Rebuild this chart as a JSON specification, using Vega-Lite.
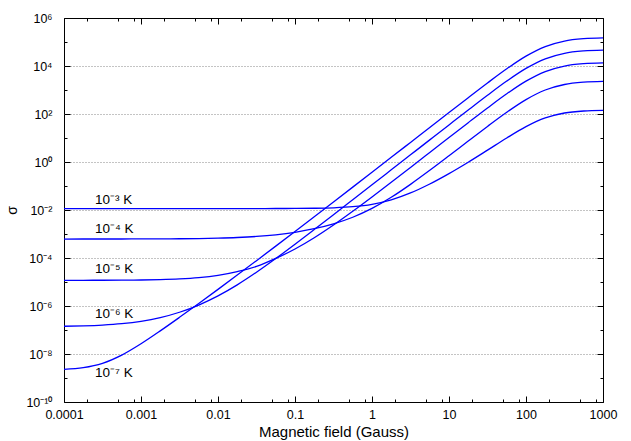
{
  "$schema": "https://vega.github.io/schema/vega-lite/v6.json",
  "width": 539,
  "height": 384,
  "autosize": {"type": "none"},
  "padding": {"left": 64, "top": 18, "right": 28, "bottom": 39},
  "background": "white",
  "config": {
    "view": {"stroke": "black", "strokeWidth": 1},
    "font": "Liberation Sans",
    "axis": {"labelFont": "Liberation Sans", "titleFont": "Liberation Sans", "titleFontWeight": "normal", "labelColor": "black", "titleColor": "black", "tickColor": "black", "domain": false, "labelFlush": false, "labelOverlap": false}
  },
  "datasets": {
    "curves": [
      {"T": "1e-7", "B": 0.0001, "s": 2.306e-9},
      {"T": "1e-7", "B": 0.0001778, "s": 2.707e-9},
      {"T": "1e-7", "B": 0.0003162, "s": 4.098e-9},
      {"T": "1e-7", "B": 0.0005623, "s": 9.018e-9},
      {"T": "1e-7", "B": 0.001, "s": 2.674e-8},
      {"T": "1e-7", "B": 0.001778, "s": 9.194e-8},
      {"T": "1e-7", "B": 0.003162, "s": 3.369e-7},
      {"T": "1e-7", "B": 0.005623, "s": 1.273e-6},
      {"T": "1e-7", "B": 0.01, "s": 4.928e-6},
      {"T": "1e-7", "B": 0.01778, "s": 1.939e-5},
      {"T": "1e-7", "B": 0.03162, "s": 7.738e-5},
      {"T": "1e-7", "B": 0.05623, "s": 3.124e-4},
      {"T": "1e-7", "B": 0.1, "s": 1.273e-3},
      {"T": "1e-7", "B": 0.1778, "s": 5.231e-3},
      {"T": "1e-7", "B": 0.3162, "s": 0.02162},
      {"T": "1e-7", "B": 0.5623, "s": 0.08977},
      {"T": "1e-7", "B": 1, "s": 0.3741},
      {"T": "1e-7", "B": 1.778, "s": 1.564},
      {"T": "1e-7", "B": 3.162, "s": 6.552},
      {"T": "1e-7", "B": 5.623, "s": 27.46},
      {"T": "1e-7", "B": 10, "s": 115.0},
      {"T": "1e-7", "B": 17.78, "s": 479.7},
      {"T": "1e-7", "B": 31.62, "s": 1966},
      {"T": "1e-7", "B": 56.23, "s": 7649},
      {"T": "1e-7", "B": 100, "s": 25800},
      {"T": "1e-7", "B": 177.8, "s": 64740},
      {"T": "1e-7", "B": 316.2, "s": 109600},
      {"T": "1e-7", "B": 562.3, "s": 137500},
      {"T": "1e-7", "B": 1000, "s": 149100},

      {"T": "1e-6", "B": 0.0001, "s": 1.435e-7},
      {"T": "1e-6", "B": 0.0001778, "s": 1.490e-7},
      {"T": "1e-6", "B": 0.0003162, "s": 1.602e-7},
      {"T": "1e-6", "B": 0.0005623, "s": 1.827e-7},
      {"T": "1e-6", "B": 0.001, "s": 2.29e-7},
      {"T": "1e-6", "B": 0.001778, "s": 3.275e-7},
      {"T": "1e-6", "B": 0.003162, "s": 5.487e-7},
      {"T": "1e-6", "B": 0.005623, "s": 1.0976e-6},
      {"T": "1e-6", "B": 0.01, "s": 2.64e-6},
      {"T": "1e-6", "B": 0.01778, "s": 7.608e-6},
      {"T": "1e-6", "B": 0.03162, "s": 2.549e-5},
      {"T": "1e-6", "B": 0.05623, "s": 9.48e-5},
      {"T": "1e-6", "B": 0.1, "s": 3.748e-4},
      {"T": "1e-6", "B": 0.1778, "s": 1.532e-3},
      {"T": "1e-6", "B": 0.3162, "s": 6.36e-3},
      {"T": "1e-6", "B": 0.5623, "s": 0.02663},
      {"T": "1e-6", "B": 1, "s": 0.1119},
      {"T": "1e-6", "B": 1.778, "s": 0.4711},
      {"T": "1e-6", "B": 3.162, "s": 1.985},
      {"T": "1e-6", "B": 5.623, "s": 8.36},
      {"T": "1e-6", "B": 10, "s": 35.15},
      {"T": "1e-6", "B": 17.78, "s": 146.96},
      {"T": "1e-6", "B": 31.62, "s": 603.7},
      {"T": "1e-6", "B": 56.23, "s": 2353},
      {"T": "1e-6", "B": 100, "s": 7943},
      {"T": "1e-6", "B": 177.8, "s": 19950},
      {"T": "1e-6", "B": 316.2, "s": 33800},
      {"T": "1e-6", "B": 562.3, "s": 42415},
      {"T": "1e-6", "B": 1000, "s": 46020},

      {"T": "1e-5", "B": 0.0001, "s": 1.1771e-5},
      {"T": "1e-5", "B": 0.0001778, "s": 1.1794e-5},
      {"T": "1e-5", "B": 0.0003162, "s": 1.1841e-5},
      {"T": "1e-5", "B": 0.0005623, "s": 1.1937e-5},
      {"T": "1e-5", "B": 0.001, "s": 1.2136e-5},
      {"T": "1e-5", "B": 0.001778, "s": 1.2546e-5},
      {"T": "1e-5", "B": 0.003162, "s": 1.3397e-5},
      {"T": "1e-5", "B": 0.005623, "s": 1.5172e-5},
      {"T": "1e-5", "B": 0.01, "s": 1.8948e-5},
      {"T": "1e-5", "B": 0.01778, "s": 2.7247e-5},
      {"T": "1e-5", "B": 0.03162, "s": 4.4574e-5},
      {"T": "1e-5", "B": 0.05623, "s": 9.594e-5},
      {"T": "1e-5", "B": 0.1, "s": 2.3804e-4},
      {"T": "1e-5", "B": 0.1778, "s": 7.017e-4},
      {"T": "1e-5", "B": 0.3162, "s": 2.378e-3},
      {"T": "1e-5", "B": 0.5623, "s": 8.877e-3},
      {"T": "1e-5", "B": 1, "s": 0.03511},
      {"T": "1e-5", "B": 1.778, "s": 0.1433},
      {"T": "1e-5", "B": 3.162, "s": 0.5947},
      {"T": "1e-5", "B": 5.623, "s": 2.4856},
      {"T": "1e-5", "B": 10, "s": 10.41},
      {"T": "1e-5", "B": 17.78, "s": 43.45},
      {"T": "1e-5", "B": 31.62, "s": 178.3},
      {"T": "1e-5", "B": 56.23, "s": 694.4},
      {"T": "1e-5", "B": 100, "s": 2344},
      {"T": "1e-5", "B": 177.8, "s": 5888},
      {"T": "1e-5", "B": 316.2, "s": 9977},
      {"T": "1e-5", "B": 562.3, "s": 12516},
      {"T": "1e-5", "B": 1000, "s": 13577},

      {"T": "1e-4", "B": 0.0001, "s": 6.171e-4},
      {"T": "1e-4", "B": 0.0001778, "s": 6.1757e-4},
      {"T": "1e-4", "B": 0.0003162, "s": 6.183e-4},
      {"T": "1e-4", "B": 0.0005623, "s": 6.197e-4},
      {"T": "1e-4", "B": 0.001, "s": 6.22e-4},
      {"T": "1e-4", "B": 0.001778, "s": 6.263e-4},
      {"T": "1e-4", "B": 0.003162, "s": 6.338e-4},
      {"T": "1e-4", "B": 0.005623, "s": 6.4715e-4},
      {"T": "1e-4", "B": 0.01, "s": 6.7096e-4},
      {"T": "1e-4", "B": 0.01778, "s": 7.1344e-4},
      {"T": "1e-4", "B": 0.03162, "s": 7.894e-4},
      {"T": "1e-4", "B": 0.05623, "s": 9.263e-4},
      {"T": "1e-4", "B": 0.1, "s": 1.1773e-3},
      {"T": "1e-4", "B": 0.1778, "s": 1.6572e-3},
      {"T": "1e-4", "B": 0.3162, "s": 2.649e-3},
      {"T": "1e-4", "B": 0.5623, "s": 4.998e-3},
      {"T": "1e-4", "B": 1, "s": 0.011639},
      {"T": "1e-4", "B": 1.778, "s": 0.03386},
      {"T": "1e-4", "B": 3.162, "s": 0.1172},
      {"T": "1e-4", "B": 5.623, "s": 0.4499},
      {"T": "1e-4", "B": 10, "s": 1.816},
      {"T": "1e-4", "B": 17.78, "s": 7.462},
      {"T": "1e-4", "B": 31.62, "s": 30.42},
      {"T": "1e-4", "B": 56.23, "s": 118.2},
      {"T": "1e-4", "B": 100, "s": 398.5},
      {"T": "1e-4", "B": 177.8, "s": 1000.2},
      {"T": "1e-4", "B": 316.2, "s": 1694},
      {"T": "1e-4", "B": 562.3, "s": 2126},
      {"T": "1e-4", "B": 1000, "s": 2307},

      {"T": "1e-3", "B": 0.0001, "s": 0.01148},
      {"T": "1e-3", "B": 0.001, "s": 0.01148},
      {"T": "1e-3", "B": 0.003162, "s": 0.011481},
      {"T": "1e-3", "B": 0.01, "s": 0.011485},
      {"T": "1e-3", "B": 0.01778, "s": 0.011489},
      {"T": "1e-3", "B": 0.03162, "s": 0.011503},
      {"T": "1e-3", "B": 0.05623, "s": 0.011536},
      {"T": "1e-3", "B": 0.1, "s": 0.011618},
      {"T": "1e-3", "B": 0.1778, "s": 0.011825},
      {"T": "1e-3", "B": 0.3162, "s": 0.012352},
      {"T": "1e-3", "B": 0.5623, "s": 0.013699},
      {"T": "1e-3", "B": 1, "s": 0.017185},
      {"T": "1e-3", "B": 1.778, "s": 0.026375},
      {"T": "1e-3", "B": 3.162, "s": 0.0513},
      {"T": "1e-3", "B": 5.623, "s": 0.1214},
      {"T": "1e-3", "B": 10, "s": 0.3293},
      {"T": "1e-3", "B": 17.78, "s": 0.9806},
      {"T": "1e-3", "B": 31.62, "s": 3.112},
      {"T": "1e-3", "B": 56.23, "s": 10.05},
      {"T": "1e-3", "B": 100, "s": 29.78},
      {"T": "1e-3", "B": 177.8, "s": 68.64},
      {"T": "1e-3", "B": 316.2, "s": 110.1},
      {"T": "1e-3", "B": 562.3, "s": 133.5},
      {"T": "1e-3", "B": 1000, "s": 141.8}
    ],
    "labels": [
      {"B": 0.0002527, "s": 0.0173, "t": "10⁻³ K"},
      {"B": 0.0002527, "s": 0.00107, "t": "10⁻⁴ K"},
      {"B": 0.0002527, "s": 2.44e-5, "t": "10⁻⁵ K"},
      {"B": 0.0002527, "s": 3.07e-7, "t": "10⁻⁶ K"},
      {"B": 0.0002527, "s": 1.13e-9, "t": "10⁻⁷ K"}
    ]
  },
  "layer": [
    {
      "data": {"name": "curves"},
      "mark": {"type": "line", "color": "#0000ff", "strokeWidth": 1.3, "interpolate": "monotone"},
      "encoding": {
        "x": {
          "field": "B", "type": "quantitative",
          "scale": {"type": "log", "domain": [0.0001, 1000], "nice": false},
          "axis": {
            "orient": "bottom",
            "values": [0.0001, 0.0002, 0.0005, 0.0008, 0.001, 0.002, 0.005, 0.008, 0.01, 0.02, 0.05, 0.08, 0.1, 0.2, 0.5, 0.8, 1, 2, 5, 8, 10, 20, 50, 80, 100, 200, 500, 800, 1000],
            "labelExpr": "abs(log(datum.value)/LN10 - round(log(datum.value)/LN10)) < 0.001 ? format(datum.value, '~g') : ''",
            "tickSize": {"condition": {"test": "abs(log(datum.value)/LN10 - round(log(datum.value)/LN10)) < 0.001", "value": -6}, "value": -3},
            "labelPadding": 12,
            "labelFontSize": 12.5,
            "grid": false,
            "title": "Magnetic field (Gauss)",
            "titleFontSize": 15,
            "titlePadding": 1
          }
        },
        "y": {
          "field": "s", "type": "quantitative",
          "scale": {"type": "log", "domain": [1e-10, 1000000], "nice": false},
          "axis": {
            "orient": "left",
            "values": [1e-10, 1e-9, 1e-8, 1e-7, 1e-6, 1e-5, 1e-4, 1e-3, 1e-2, 1e-1, 1, 10, 100, 1000, 10000, 100000, 1000000],
            "labelExpr": "(round(log(datum.value)/LN10) % 2 == 0) ? '10' + replace(replace(replace(replace(replace(replace(replace(replace(replace(replace(replace('' + round(log(datum.value)/LN10), '-', '⁻'), '0', '⁰'), '1', '¹'), '2', '²'), '3', '³'), '4', '⁴'), '5', '⁵'), '6', '⁶'), '7', '⁷'), '8', '⁸'), '9', '⁹') : ''",
            "tickSize": {"condition": {"test": "round(log(datum.value)/LN10) % 2 == 0", "value": -6}, "value": -3},
            "labelPadding": 18,
            "labelFontSize": 12.5,
            "grid": true,
            "gridColor": "#888888",
            "gridDash": [1, 2],
            "gridWidth": 1,
            "gridOpacity": {"condition": {"test": "round(log(datum.value)/LN10) % 2 == 0 && datum.value > 2e-10 && datum.value < 5e5", "value": 1}, "value": 0},
            "title": "σ",
            "titleFontSize": 14,
            "titlePadding": 6
          }
        },
        "detail": {"field": "T", "type": "nominal"}
      }
    },
    {
      "data": {"name": "labels"},
      "mark": {"type": "text", "align": "left", "baseline": "alphabetic", "fontSize": 13.5, "font": "Liberation Sans", "color": "black"},
      "encoding": {
        "x": {"field": "B", "type": "quantitative", "axis": null},
        "y": {"field": "s", "type": "quantitative", "axis": null},
        "text": {"field": "t"}
      }
    },
    {
      "data": {"name": "curves"},
      "mark": {"type": "point", "opacity": 0, "size": 0},
      "encoding": {
        "x": {
          "field": "B", "type": "quantitative",
          "axis": {
            "orient": "top",
            "values": [0.0001, 0.0002, 0.0005, 0.0008, 0.001, 0.002, 0.005, 0.008, 0.01, 0.02, 0.05, 0.08, 0.1, 0.2, 0.5, 0.8, 1, 2, 5, 8, 10, 20, 50, 80, 100, 200, 500, 800, 1000],
            "labels": false,
            "tickSize": {"condition": {"test": "abs(log(datum.value)/LN10 - round(log(datum.value)/LN10)) < 0.001", "value": -6}, "value": -3},
            "grid": false,
            "title": null
          }
        },
        "y": {
          "field": "s", "type": "quantitative",
          "axis": {
            "orient": "right",
            "values": [1e-10, 1e-9, 1e-8, 1e-7, 1e-6, 1e-5, 1e-4, 1e-3, 1e-2, 1e-1, 1, 10, 100, 1000, 10000, 100000, 1000000],
            "labels": false,
            "tickSize": {"condition": {"test": "round(log(datum.value)/LN10) % 2 == 0", "value": -6}, "value": -3},
            "grid": false,
            "title": null
          }
        }
      }
    }
  ],
  "resolve": {"axis": {"x": "independent", "y": "independent"}}
}
